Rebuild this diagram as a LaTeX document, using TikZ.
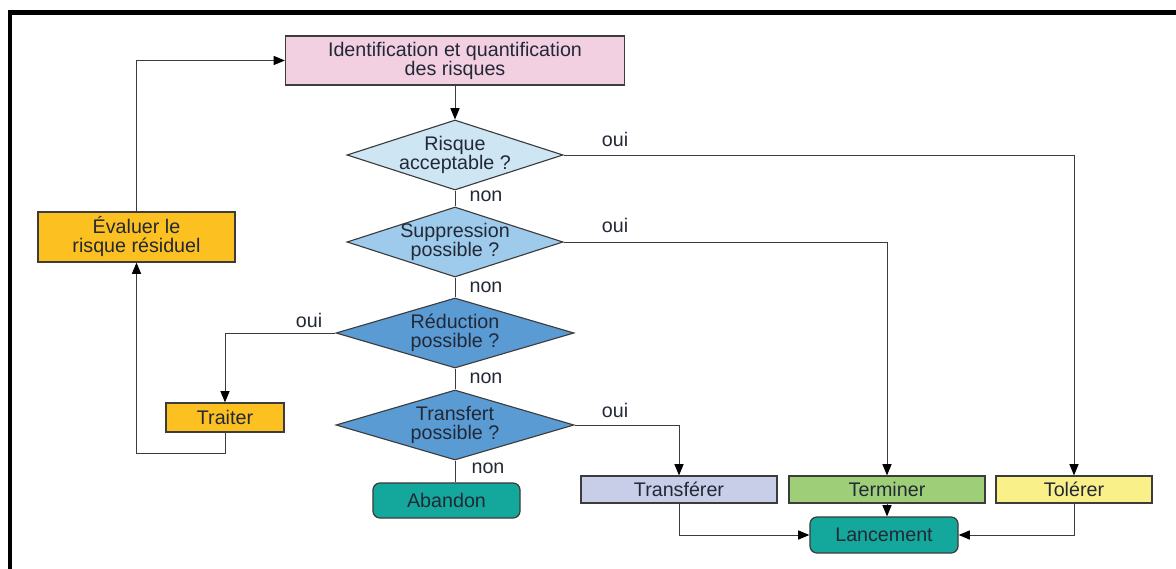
\documentclass[tikz,border=0pt]{standalone}
\usepackage{fontspec}
\setmainfont{Liberation Sans}
\usetikzlibrary{shapes.geometric}
\usetikzlibrary{arrows.meta}

\definecolor{RiskPink}{RGB}{243,207,226}
\definecolor{ResidualAmber}{RGB}{252,192,32}
\definecolor{AcceptBlue}{RGB}{206,229,243}
\definecolor{RemoveBlue}{RGB}{158,203,236}
\definecolor{ReduceBlue}{RGB}{90,155,212}
\definecolor{LaunchTeal}{RGB}{20,168,156}
\definecolor{TransferLilac}{RGB}{200,205,232}
\definecolor{FinishGreen}{RGB}{158,207,120}
\definecolor{TolerateYellow}{RGB}{250,240,138}
\definecolor{InkDark}{RGB}{34,40,54}
\definecolor{WireGrey}{RGB}{60,60,60}
\colorlet{ColourFrame}{black}

\begin{document}
\begin{tikzpicture}[x=0.025cm,y=-0.025cm,
    font={\fontsize{14}{13.5}\selectfont},
    stepbox/.style={draw=WireGrey,line width=0.9pt,text=InkDark,align=center,inner sep=0pt},
    decision/.style={diamond,aspect=3,draw=WireGrey,line width=0.8pt,text=InkDark,align=center,inner sep=-3pt,minimum height=1.75cm},
    endbox/.style={stepbox,rounded corners=5pt,fill=LaunchTeal},
    link/.style={draw=WireGrey,line width=0.7pt},
    flow/.style={link,-{Triangle[length=8pt,width=6.5pt,black]}},
    answer/.style={text=InkDark,inner sep=0pt}]

  \useasboundingbox (0,0) rectangle (1176,569);

  \begin{scope}
    \clip (0,0) rectangle (1176,569);
    \draw[ColourFrame,line width=3.2pt] (10,600) -- (10,12.5) -- (1200,12.5);
  \end{scope}

  \node[stepbox,fill=RiskPink,minimum width=8.475cm,minimum height=1.225cm] (ident) at (455,60.5) {Identification et quantification\\des risques};

  \node[decision,fill=AcceptBlue,minimum width=5.4cm] (accept) at (455,155) {Risque\\acceptable ?};
  \node[decision,fill=RemoveBlue,minimum width=5.4cm] (remove) at (455,242) {Suppression\\possible ?};
  \node[decision,fill=ReduceBlue,minimum width=5.95cm] (reduce) at (455,333) {Réduction\\possible ?};
  \node[decision,fill=ReduceBlue,minimum width=5.95cm] (transfer) at (455,425) {Transfert\\possible ?};

  \node[stepbox,fill=ResidualAmber,minimum width=4.925cm,minimum height=1.25cm] (evaluer) at (136.5,237) {Évaluer le\\risque résiduel};
  \node[stepbox,fill=ResidualAmber,minimum width=2.95cm,minimum height=0.725cm] (traiter) at (225,417.5) {Traiter};

  \node[endbox,minimum width=3.675cm,minimum height=0.875cm] (abandon) at (446.5,500.5) {Abandon};
  \node[stepbox,fill=TransferLilac,minimum width=4.9cm,minimum height=0.675cm] (transferer) at (679,489.5) {Transférer};
  \node[stepbox,fill=FinishGreen,minimum width=4.9cm,minimum height=0.675cm] (terminer) at (887,489.5) {Terminer};
  \node[stepbox,fill=TolerateYellow,minimum width=3.9cm,minimum height=0.675cm] (tolerer) at (1074,489.5) {Tolérer};
  \node[endbox,minimum width=3.7cm,minimum height=0.9cm] (lancement) at (884,535) {Lancement};

  % answers
  \node[answer] (oui1) at (615,139) {oui};
  \node[answer] (oui2) at (615,225) {oui};
  \node[answer] (oui3) at (309,320) {oui};
  \node[answer] (oui4) at (615,410) {oui};
  \node[answer] (non1) at (486,196) {non};
  \node[answer] (non2) at (486,287) {non};
  \node[answer] (non3) at (486,378) {non};
  \node[answer] (non4) at (488,468) {non};

  \draw[flow] (ident) -- (accept);
  \draw[link] (accept) -- (remove);
  \draw[link] (remove) -- (reduce);
  \draw[link] (reduce) -- (transfer);
  \draw[link] (transfer.south) -- (transfer.south |- abandon.north);

  \draw[flow] (accept.east) -| (tolerer.north);
  \draw[flow] (remove.east) -| (terminer.north);
  \draw[flow] (reduce.west) -| (traiter.north);
  \draw[flow] (transfer.east) -| (transferer.north);

  \draw[flow] (traiter.south) -- ++(0,21) -| (evaluer.south);
  \draw[flow] (evaluer.north) |- (ident.west);

  \draw[flow] (terminer.south) -- (terminer.south |- lancement.north);
  \draw[flow] (transferer.south) |- (lancement.west);
  \draw[flow] (tolerer.south) |- (lancement.east);

\end{tikzpicture}
\end{document}
